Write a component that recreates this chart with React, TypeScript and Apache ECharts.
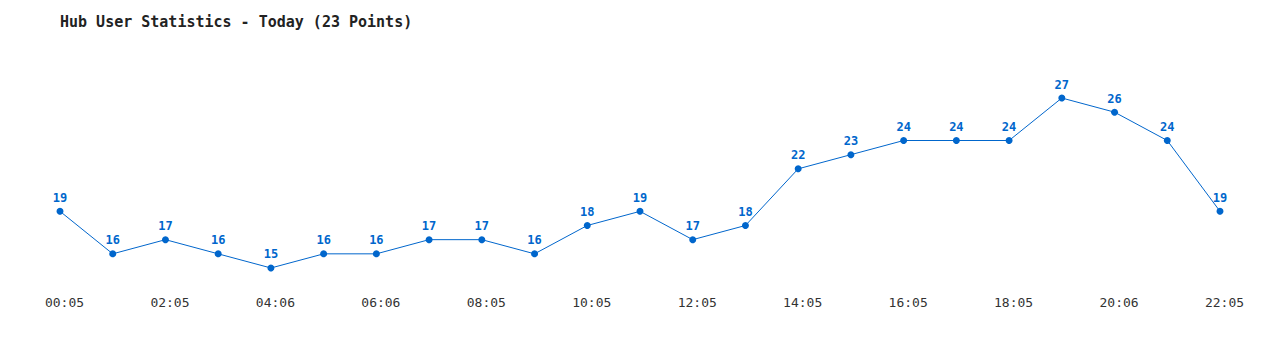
import React, { useEffect, useRef } from "react";
import * as echarts from "echarts";

const titleText = "Hub User Statistics - Today (23 Points)";
const times = [
  "00:05", "01:05", "02:05", "03:06", "04:06", "05:06", "06:06", "07:06",
  "08:05", "09:05", "10:05", "11:05", "12:05", "13:05", "14:05", "15:05",
  "16:05", "17:05", "18:05", "19:05", "20:06", "21:06", "22:05",
];
const users = [19, 16, 17, 16, 15, 16, 16, 17, 17, 16, 18, 19, 17, 18, 22, 23, 24, 24, 24, 27, 26, 24, 19];

const FONT = "'DejaVu Sans Mono', 'Liberation Mono', monospace";

export default function App() {
  const ref = useRef<HTMLDivElement>(null);
  useEffect(() => {
    const chart = echarts.init(ref.current!, null, { renderer: "svg" });
    chart.setOption({
      animation: false,
      backgroundColor: "#ffffff",
      title: {
        text: titleText,
        left: 55,
        top: 9,
        textStyle: { fontFamily: FONT, fontSize: 15, fontWeight: "bold", color: "#222" },
      },
      grid: { left: 60, right: 60, top: 69.67, bottom: 53.67 },
      xAxis: {
        type: "category",
        data: times,
        boundaryGap: false,
        axisLine: { show: false },
        axisTick: { show: false },
        axisLabel: {
          interval: 1,
          margin: 0,
          padding: [0, 0, 0, 9],
          fontFamily: FONT,
          fontSize: 13,
          color: "#333",
        },
        splitLine: { show: false },
      },
      yAxis: {
        type: "value",
        min: 13,
        max: 29,
        show: false,
        splitLine: { show: false },
      },
      series: [
        {
          type: "line",
          data: users,
          color: "#0066cc",
          lineStyle: { width: 1, color: "#0066cc" },
          symbol: "circle",
          symbolSize: 7,
          itemStyle: { color: "#0066cc" },
          label: {
            show: true,
            position: "top",
            distance: 4,
            fontFamily: FONT,
            fontSize: 12,
            fontWeight: "bold",
            color: "#0066cc",
          },
        },
      ],
    });
    return () => chart.dispose();
  }, []);
  return (
    <div
      ref={ref}
      style={{ position: "fixed", left: 0, top: 0, width: 1280, height: 350 }}
    />
  );
}
